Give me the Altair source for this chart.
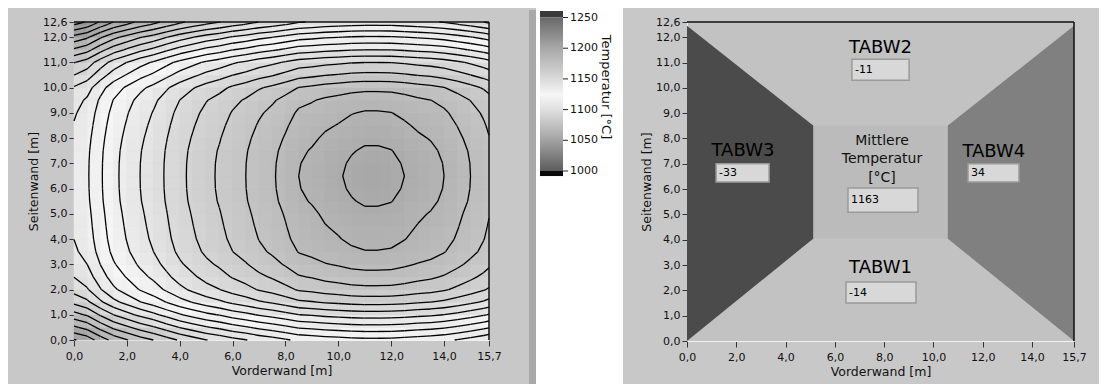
import altair as alt
import numpy as np
import pandas as pd

FONT = "DejaVu Sans"

# ---------------- left panel: temperature field ----------------
# temperature profile (°C) read along the horizontal line through the hot spot (y = 6.5 m)
x_nodes = [0.0, 0.5, 1.0, 1.5, 2.0, 2.5, 3.0, 3.5, 4.0, 4.5, 5.0, 5.5, 6.0, 6.5, 7.0, 7.5,
           8.0, 8.5, 9.0, 9.5, 10.0, 10.5, 11.0, 11.5, 12.0, 12.5, 13.0, 13.5, 14.0, 14.5,
           15.0, 15.5, 15.7]
temp_along_x = [1111, 1115, 1123, 1130, 1135, 1140, 1144, 1149, 1154, 1158, 1162, 1165,
                1169, 1172, 1176, 1179, 1183, 1188, 1190, 1193, 1195, 1198, 1200, 1200,
                1199, 1196, 1193, 1191, 1188, 1184, 1180, 1176, 1174]
# temperature profile (°C) read along the vertical line through the hot spot (x = 11.3 m)
y_nodes = [0.0, 0.5, 1.0, 1.5, 2.0, 2.5, 3.0, 3.5, 4.0, 4.5, 5.0, 5.5, 6.0, 6.5, 7.0, 7.5,
           8.0, 8.5, 9.0, 9.5, 10.0, 10.5, 11.0, 11.5, 12.0, 12.5, 12.6]
temp_along_y = [1114, 1129, 1144, 1159, 1170, 1177, 1183, 1188, 1191, 1193, 1195, 1198,
                1200, 1201, 1200, 1198, 1195, 1192, 1189, 1185, 1178, 1166, 1156, 1140,
                1125, 1107, 1104]
center_temp = 1201
# contour roundness (exponent of the combination) versus drop from the hot spot (°C)
shape_drop = [0, 6, 15, 30, 70, 130, 200]
shape_exponent = [1.0, 1.1, 1.35, 1.55, 1.5, 1.3, 1.15]
contour_levels = [1196, 1188, 1180, 1172, 1164, 1156, 1148, 1140, 1132, 1124, 1116, 1108,
                  1100, 1092, 1084, 1076, 1068, 1060, 1052, 1044, 1036, 1028, 1020, 1012, 1004]

colorbar_values = [1000, 1050, 1100, 1124, 1150, 1200, 1250]
colorbar_colors = ["#5c5c5c", "#a2a2a2", "#e0e0e0", "#f6f6f6", "#dadada", "#a8a8a8", "#686868"]
colorbar_ticks = [1000, 1050, 1100, 1150, 1200, 1250]
under_range = [991.8, 1000]
over_range = [1250, 1260.6]
under_color = "#0a0a0a"
over_color = "#3a3a3a"

# ---------------- right panel: wall zones ----------------
wall_names = ["TABW1", "TABW2", "TABW3", "TABW4"]
wall_values = ["-14", "-11", "-33", "34"]
mean_temperature = "1163"
left_zone_x = [0.0, 5.13]
left_zone_low = [0.0, 4.05]
left_zone_high = [12.45, 8.5]
right_zone_x = [10.57, 15.7]
right_zone_low = [4.05, 0.0]
right_zone_high = [8.5, 12.45]
center_zone_x = [5.13, 10.57]
center_zone_y = [4.05, 8.5]

x_tick_values = [0, 2, 4, 6, 8, 10, 12, 14, 15.7]
y_tick_values = [0, 1, 2, 3, 4, 5, 6, 7, 8, 9, 10, 11, 12, 12.6]
x_max = 15.7
y_max = 12.6

# annotation anchors (m)
wall_label_x = [7.85, 7.85, 2.27, 12.45]
wall_label_y = [2.87, 11.56, 7.51, 7.48]
box_x0 = [6.45, 6.69, 1.18, 11.40]
box_x1 = [9.29, 9.01, 3.33, 13.47]
box_y0 = [1.50, 10.30, 6.28, 6.28]
box_y1 = [2.33, 11.13, 7.00, 7.00]
mean_box = [6.53, 9.37, 5.09, 6.04]
mean_label_xy = [7.91, 7.90]

# ---------------- build field grid from the read profiles ----------------
X = np.array(x_nodes, float)
Y = np.array(y_nodes, float)
dh = (center_temp - np.array(temp_along_x, float))[:, None] * np.ones((1, len(Y)))
dv = (center_temp - np.array(temp_along_y, float))[None, :] * np.ones((len(X), 1))
p = np.interp(dh + dv, shape_drop, shape_exponent)
T = center_temp - (dh ** p + dv ** p) ** (1.0 / p)
nx, ny = len(X), len(Y)

cells = []
for i in range(nx - 1):
    for j in range(ny - 1):
        cells.append(dict(x0=X[i], x1=X[i + 1], y0=Y[j], y1=Y[j + 1],
                          t=float(T[i:i + 2, j:j + 2].mean())))
cells_df = pd.DataFrame(cells)

segs = []
for lev in contour_levels:
    for i in range(nx - 1):
        for j in range(ny - 1):
            c = [(X[i], Y[j], T[i, j]), (X[i + 1], Y[j], T[i + 1, j]),
                 (X[i + 1], Y[j + 1], T[i + 1, j + 1]), (X[i], Y[j + 1], T[i, j + 1])]
            pts = {}
            for e in range(4):
                a, b = c[e], c[(e + 1) % 4]
                if (a[2] >= lev) != (b[2] >= lev):
                    tt = (lev - a[2]) / (b[2] - a[2])
                    pts[e] = (a[0] + tt * (b[0] - a[0]), a[1] + tt * (b[1] - a[1]))
            pairs = []
            if len(pts) == 2:
                k = list(pts.keys())
                pairs = [(k[0], k[1])]
            elif len(pts) == 4:
                mid = np.mean([q[2] for q in c])
                if (mid >= lev) == (c[0][2] >= lev):
                    pairs = [(0, 1), (2, 3)]
                else:
                    pairs = [(3, 0), (1, 2)]
            for a, b in pairs:
                segs.append(dict(x=pts[a][0], y=pts[a][1], x2=pts[b][0], y2=pts[b][1]))
segs_df = pd.DataFrame(segs)

border_df = pd.DataFrame({"x": [0, x_max], "y": [y_max, 0], "x2": [x_max, x_max], "y2": [y_max, y_max]})

# ---------------- shared axis definitions ----------------
fmt = "replace(format(datum.value, '.1f'), '.', ',')"
xs = alt.Scale(domain=[0, x_max], nice=False, zero=False)
ys = alt.Scale(domain=[0, y_max], nice=False, zero=False)
x_axis = alt.Axis(values=x_tick_values, labelExpr=fmt, title="Vorderwand [m]", grid=False,
                  tickSize=6, labelPadding=4, titlePadding=3, labelFlush=False, labelOverlap=False)
y_axis = alt.Axis(values=y_tick_values, labelExpr=fmt, title="Seitenwand [m]", grid=False,
                  tickSize=5, labelPadding=2, titlePadding=2, labelFlush=False, labelOverlap=False)


def XQ(field):
    return alt.X(field, type="quantitative", scale=xs, axis=x_axis)


def YQ(field, **kw):
    return alt.Y(field, type="quantitative", scale=ys, axis=y_axis, **kw)


color_scale = alt.Scale(domain=colorbar_values, range=colorbar_colors, interpolate="rgb", clamp=True)

heat = alt.Chart(cells_df).mark_rect(strokeWidth=0.6).encode(
    x=XQ("x0"), x2=alt.X2("x1"), y=YQ("y0"), y2=alt.Y2("y1"),
    fill=alt.Fill("t:Q", scale=color_scale, legend=None),
    stroke=alt.Stroke("t:Q", scale=color_scale, legend=None),
)
contours = alt.Chart(segs_df).mark_rule(color="#000000", strokeWidth=1.3).encode(
    x=XQ("x"), y=YQ("y"), x2=alt.X2("x2"), y2=alt.Y2("y2")
)
border = alt.Chart(border_df).mark_rule(color="#111111", strokeWidth=1.5).encode(
    x=XQ("x"), y=YQ("y"), x2=alt.X2("x2"), y2=alt.Y2("y2")
)
left = alt.layer(heat, contours, border).properties(width=415, height=318)

# ---------------- colorbar ----------------
cb_scale = alt.Scale(domain=[1000, 1242.7], nice=False, zero=False)
one = pd.DataFrame({"k": [0]})
gap = alt.Chart(one).mark_rect(color="#ffffff").encode(
    x=alt.value(47), x2=alt.value(134), y=alt.value(-14), y2=alt.value(362))
shadow = alt.Chart(one).mark_rect(color="#a9a9a9").encode(
    x=alt.value(40), x2=alt.value(47), y=alt.value(-12), y2=alt.value(362))
bands_df = pd.DataFrame({"lo": [under_range[0], over_range[0]], "hi": [under_range[1], over_range[1]],
                         "c": [under_color, over_color]})
bands = alt.Chart(bands_df).mark_rect().encode(
    x=alt.value(51), x2=alt.value(74),
    y=alt.Y("lo:Q", scale=cb_scale, axis=None), y2=alt.Y2("hi"),
    color=alt.Color("c:N", scale=None))
gradient = {"gradient": "linear", "x1": 0, "y1": 1, "x2": 0, "y2": 0,
            "stops": [{"offset": (v - colorbar_values[0]) / (colorbar_values[-1] - colorbar_values[0]),
                       "color": col} for v, col in zip(colorbar_values, colorbar_colors)]}
grad_df = pd.DataFrame({"lo": [colorbar_values[0]], "hi": [colorbar_values[-1]]})
grad = alt.Chart(grad_df).mark_rect(fill=gradient).encode(
    x=alt.value(51), x2=alt.value(74),
    y=alt.Y("lo:Q", scale=cb_scale, axis=None), y2=alt.Y2("hi"))
tick_df = pd.DataFrame({"v": colorbar_ticks, "lab": [str(v) for v in colorbar_ticks]})
cb_ticks = alt.Chart(tick_df).mark_rule(color="#222222").encode(
    x=alt.value(74), x2=alt.value(79), y=alt.Y("v:Q", scale=cb_scale, axis=None))
cb_labels = alt.Chart(tick_df).mark_text(align="left", baseline="middle", font=FONT, fontSize=11,
                                         color="#111111").encode(
    x=alt.value(81), y=alt.Y("v:Q", scale=cb_scale, axis=None), text="lab:N")
cb_title = alt.Chart(one).mark_text(angle=90, align="center", baseline="middle", font=FONT,
                                    fontSize=13, color="#111111").encode(
    x=alt.value(117), y=alt.value(65), text=alt.value("Temperatur [°C]"))
cbar = alt.layer(gap, shadow, bands, grad, cb_ticks, cb_labels, cb_title).properties(width=198, height=149)

# ---------------- right panel ----------------
zone_df = pd.DataFrame({
    "x": left_zone_x + right_zone_x,
    "lo": left_zone_low + right_zone_low,
    "hi": left_zone_high + right_zone_high,
    "zone": ["TABW3", "TABW3", "TABW4", "TABW4"],
})
zones = alt.Chart(zone_df).mark_area(opacity=1).encode(
    x=XQ("x"), y=YQ("lo", stack=None), y2=alt.Y2("hi"),
    color=alt.Color("zone:N", scale=alt.Scale(domain=["TABW3", "TABW4"], range=["#4b4b4b", "#808080"]),
                    legend=None),
    detail="zone:N")
center_df = pd.DataFrame({"x0": [center_zone_x[0]], "x1": [center_zone_x[1]],
                          "y0": [center_zone_y[0]], "y1": [center_zone_y[1]]})
center = alt.Chart(center_df).mark_rect(color="#bbbbbb").encode(
    x=XQ("x0"), x2=alt.X2("x1"), y=YQ("y0"), y2=alt.Y2("y1"))
border_r = alt.Chart(border_df).mark_rule(color="#111111", strokeWidth=1.5).encode(
    x=XQ("x"), y=YQ("y"), x2=alt.X2("x2"), y2=alt.Y2("y2"))

boxes_df = pd.DataFrame({
    "x0": box_x0 + [mean_box[0]], "x1": box_x1 + [mean_box[1]],
    "y0": box_y0 + [mean_box[2]], "y1": box_y1 + [mean_box[3]],
    "val": wall_values + [mean_temperature],
})
boxes = alt.Chart(boxes_df).mark_rect(color="#d8d8d8", stroke="#9a9a9a", strokeWidth=1.5).encode(
    x=XQ("x0"), x2=alt.X2("x1"), y=YQ("y0"), y2=alt.Y2("y1"))
boxes_df["ym"] = (boxes_df["y0"] + boxes_df["y1"]) / 2
box_text = alt.Chart(boxes_df).mark_text(align="left", baseline="middle", dx=3, font=FONT,
                                         fontSize=11, color="#000000").encode(
    x=XQ("x0"), y=YQ("ym"), text="val:N")
wall_df = pd.DataFrame({"name": wall_names, "x": wall_label_x, "y": wall_label_y})
wall_text = alt.Chart(wall_df).mark_text(align="center", baseline="middle", font=FONT,
                                         fontSize=18, color="#000000").encode(
    x=XQ("x"), y=YQ("y"), text="name:N")
mean_df = pd.DataFrame({"x": [mean_label_xy[0]], "y": [mean_label_xy[1]],
                        "t": ["Mittlere\nTemperatur\n[°C]"]})
mean_text = alt.Chart(mean_df).mark_text(align="center", baseline="middle", lineBreak="\n",
                                         lineHeight=18.5, font=FONT, fontSize=14,
                                         color="#111111").encode(
    x=XQ("x"), y=YQ("y"), text="t:N")

right = alt.layer(zones, center, border_r, boxes, box_text, wall_text, mean_text).properties(
    width=387, height=319, view=alt.ViewBackground(fill="#c2c2c2", stroke=None))

chart = alt.hconcat(left, cbar, right, spacing=0, bounds="flush").properties(
    background="#c8c8c8",
    padding={"left": 19, "top": 0, "right": 12, "bottom": 0},
).configure_view(stroke=None).configure_axis(
    labelFont=FONT, labelFontSize=11, labelColor="#111111",
    titleFont=FONT, titleFontSize=12.5, titleFontWeight="normal", titleColor="#111111",
    domainColor="#f2f2f2", domainWidth=1, tickColor="#333333", tickWidth=1,
)

chart.save("out.html", embed_options={"renderer": "svg", "actions": False})
